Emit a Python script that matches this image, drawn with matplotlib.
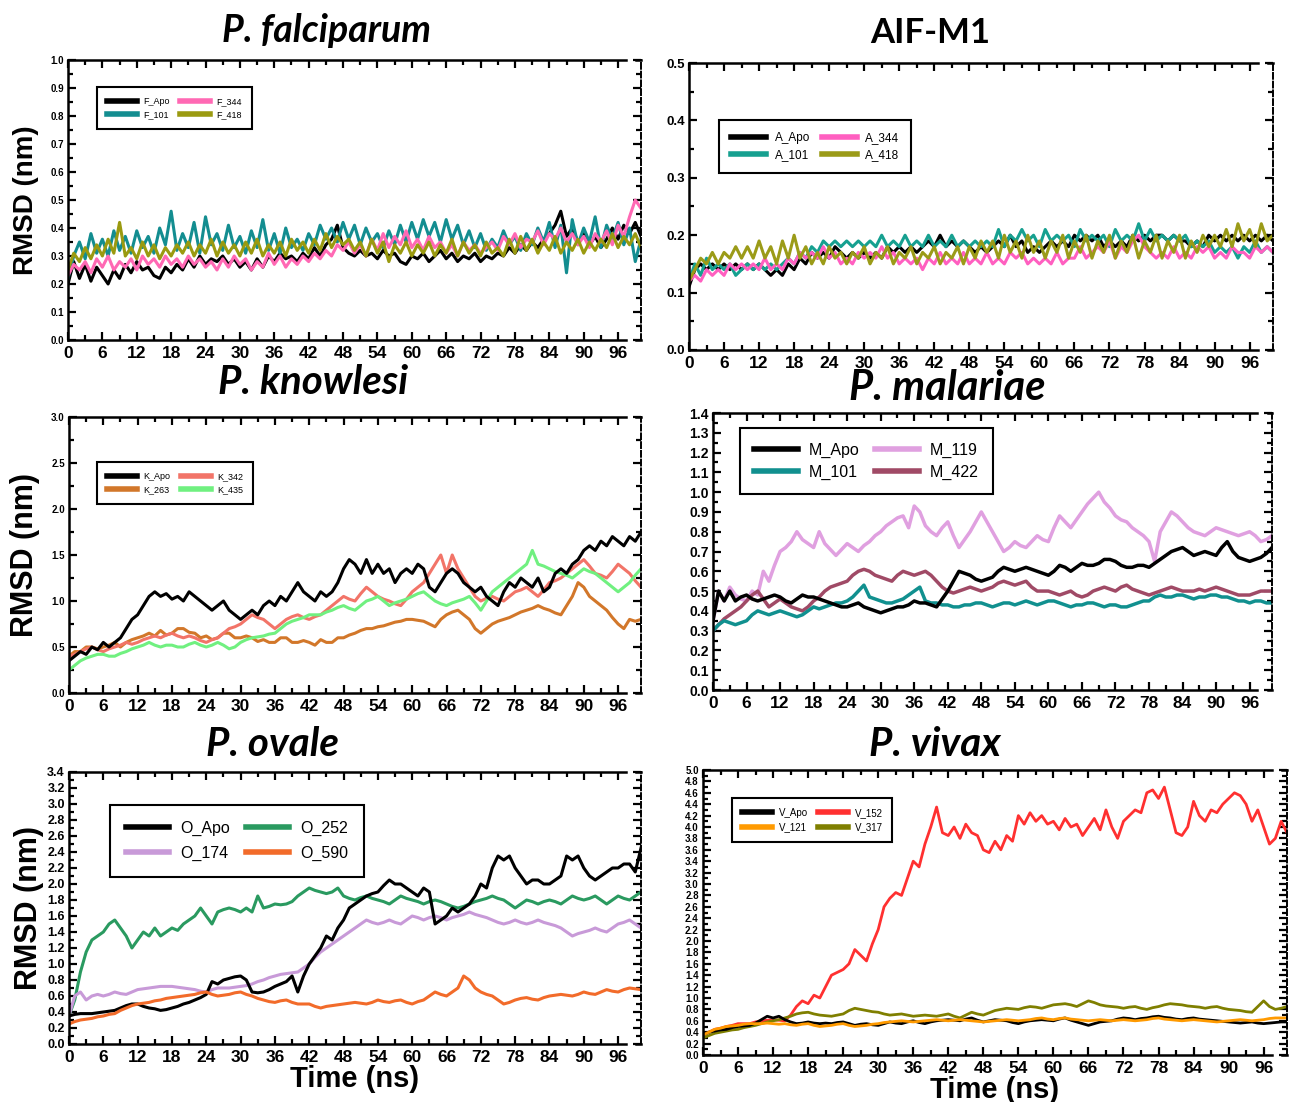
import numpy as np
import matplotlib.pyplot as plt
from matplotlib.lines import Line2D
from matplotlib.ticker import FixedLocator, MultipleLocator

plt.rcParams['font.family'] = ['Liberation Sans', 'DejaVu Sans']

# frames every 1 ns over the 100 ns runs
time_ns = np.arange(0, 101)

# ---------------- P. falciparum ----------------
f_apo = [0.20, 0.28, 0.22, 0.27, 0.21, 0.26, 0.23, 0.20, 0.25, 0.22, 0.27,
         0.24, 0.28, 0.25, 0.26, 0.23, 0.22, 0.26, 0.24, 0.27, 0.25,
         0.29, 0.26, 0.30, 0.27, 0.29, 0.28, 0.30, 0.27, 0.29, 0.26,
         0.28, 0.25, 0.29, 0.26, 0.30, 0.28, 0.31, 0.29, 0.30, 0.28,
         0.31, 0.29, 0.33, 0.30, 0.34, 0.36, 0.41, 0.33, 0.31, 0.30,
         0.32, 0.30, 0.31, 0.29, 0.32, 0.30, 0.31, 0.28, 0.27, 0.30,
         0.29, 0.31, 0.28, 0.30, 0.32, 0.29, 0.31, 0.28, 0.30, 0.29,
         0.31, 0.28, 0.30, 0.29, 0.31, 0.30, 0.33, 0.31, 0.34, 0.32,
         0.35, 0.33, 0.36, 0.38, 0.41, 0.46, 0.37, 0.40, 0.35, 0.38,
         0.34, 0.37, 0.33, 0.36, 0.40, 0.36, 0.41, 0.38, 0.42, 0.37]
f_101 = [0.22, 0.30, 0.35, 0.29, 0.38, 0.31, 0.36, 0.30, 0.39, 0.32, 0.37,
         0.31, 0.39, 0.33, 0.37, 0.31, 0.40, 0.34, 0.46, 0.32, 0.38,
         0.33, 0.42, 0.31, 0.44, 0.34, 0.38, 0.32, 0.41, 0.33, 0.37,
         0.31, 0.39, 0.33, 0.43, 0.32, 0.38, 0.31, 0.40, 0.33, 0.36,
         0.32, 0.38, 0.34, 0.41, 0.36, 0.40, 0.35, 0.42, 0.36, 0.41,
         0.34, 0.40, 0.35, 0.38, 0.33, 0.39, 0.34, 0.41, 0.35, 0.42,
         0.36, 0.43, 0.37, 0.42, 0.35, 0.43, 0.36, 0.41, 0.34, 0.39,
         0.33, 0.38, 0.32, 0.36, 0.33, 0.39, 0.34, 0.37, 0.32, 0.38,
         0.34, 0.40, 0.35, 0.42, 0.33, 0.41, 0.24, 0.43, 0.34, 0.40,
         0.35, 0.44, 0.33, 0.41, 0.36, 0.42, 0.34, 0.40, 0.28, 0.36]
f_344 = [0.23, 0.27, 0.25, 0.28, 0.24, 0.29, 0.26, 0.30, 0.25, 0.28, 0.26,
         0.29, 0.25, 0.30, 0.27, 0.29, 0.26, 0.30, 0.27, 0.29, 0.26,
         0.30, 0.27, 0.29, 0.26, 0.28, 0.25, 0.29, 0.26, 0.30, 0.27,
         0.29, 0.25, 0.28, 0.26, 0.31, 0.27, 0.30, 0.26, 0.29, 0.27,
         0.30, 0.28, 0.31, 0.29, 0.32, 0.30, 0.34, 0.32, 0.35, 0.31,
         0.34, 0.30, 0.36, 0.32, 0.38, 0.33, 0.37, 0.34, 0.39, 0.33,
         0.36, 0.32, 0.37, 0.33, 0.35, 0.31, 0.34, 0.30, 0.35, 0.32,
         0.34, 0.31, 0.33, 0.35, 0.32, 0.37, 0.34, 0.38, 0.33, 0.36,
         0.35, 0.39, 0.34, 0.38, 0.36, 0.40, 0.35, 0.38, 0.34, 0.37,
         0.33, 0.38, 0.35, 0.39, 0.34, 0.41, 0.37, 0.44, 0.50, 0.47]
f_418 = [0.25, 0.31, 0.28, 0.33, 0.29, 0.34, 0.30, 0.36, 0.31, 0.42, 0.30,
         0.33, 0.29, 0.35, 0.30, 0.34, 0.29, 0.33, 0.30, 0.34, 0.31,
         0.35, 0.30, 0.34, 0.31, 0.36, 0.30, 0.35, 0.31, 0.34, 0.30,
         0.35, 0.31, 0.36, 0.30, 0.34, 0.31, 0.35, 0.30, 0.36, 0.32,
         0.35, 0.31, 0.36, 0.32, 0.38, 0.33, 0.37, 0.34, 0.36, 0.32,
         0.35, 0.30, 0.36, 0.31, 0.35, 0.28, 0.34, 0.31, 0.35, 0.30,
         0.34, 0.31, 0.35, 0.30, 0.34, 0.31, 0.36, 0.30, 0.35, 0.31,
         0.34, 0.30, 0.35, 0.31, 0.33, 0.30, 0.36, 0.31, 0.37, 0.32,
         0.36, 0.31, 0.35, 0.32, 0.37, 0.31, 0.35, 0.32, 0.36, 0.31,
         0.35, 0.32, 0.36, 0.33, 0.38, 0.33, 0.37, 0.34, 0.38, 0.33]

# ---------------- AIF-M1 ----------------
a_apo = [0.11, 0.14, 0.15, 0.14, 0.15, 0.14, 0.15, 0.14, 0.15, 0.14, 0.15,
         0.14, 0.15, 0.14, 0.13, 0.14, 0.13, 0.15, 0.14, 0.16, 0.15,
         0.17, 0.16, 0.17, 0.16, 0.18, 0.17, 0.16, 0.17, 0.16, 0.17,
         0.16, 0.17, 0.16, 0.18, 0.17, 0.18, 0.17, 0.18, 0.17, 0.18,
         0.19, 0.18, 0.20, 0.18, 0.19, 0.18, 0.19, 0.18, 0.17, 0.18,
         0.17, 0.18, 0.19, 0.18, 0.20, 0.18, 0.19, 0.17, 0.18, 0.17,
         0.18, 0.19, 0.18, 0.19, 0.18, 0.20, 0.19, 0.20, 0.19, 0.20,
         0.18, 0.19, 0.18, 0.19, 0.18, 0.20, 0.19, 0.20, 0.19, 0.20,
         0.20, 0.19, 0.20, 0.19, 0.19, 0.18, 0.19, 0.18, 0.20, 0.19,
         0.20, 0.19, 0.20, 0.19, 0.20, 0.19, 0.20, 0.19, 0.20, 0.19]
a_101 = [0.12, 0.15, 0.13, 0.16, 0.14, 0.15, 0.14, 0.15, 0.13, 0.14, 0.15,
         0.14, 0.15, 0.14, 0.15, 0.14, 0.15, 0.16, 0.15, 0.17, 0.16,
         0.18, 0.17, 0.19, 0.18, 0.19, 0.18, 0.19, 0.18, 0.19, 0.18,
         0.19, 0.18, 0.20, 0.18, 0.19, 0.18, 0.20, 0.18, 0.19, 0.18,
         0.20, 0.18, 0.19, 0.18, 0.20, 0.18, 0.19, 0.18, 0.19, 0.18,
         0.19, 0.18, 0.21, 0.18, 0.20, 0.19, 0.21, 0.19, 0.20, 0.18,
         0.21, 0.19, 0.20, 0.19, 0.20, 0.18, 0.21, 0.19, 0.20, 0.19,
         0.20, 0.18, 0.21, 0.19, 0.20, 0.19, 0.22, 0.19, 0.21, 0.19,
         0.20, 0.19, 0.20, 0.19, 0.20, 0.18, 0.19, 0.18, 0.19, 0.17,
         0.18, 0.17, 0.18, 0.16, 0.18, 0.17, 0.19, 0.17, 0.18, 0.17]
a_344 = [0.12, 0.13, 0.12, 0.14, 0.13, 0.14, 0.13, 0.15, 0.14, 0.15, 0.14,
         0.15, 0.14, 0.16, 0.14, 0.15, 0.14, 0.16, 0.15, 0.17, 0.16,
         0.17, 0.16, 0.18, 0.16, 0.17, 0.15, 0.16, 0.15, 0.17, 0.16,
         0.17, 0.16, 0.18, 0.16, 0.17, 0.15, 0.16, 0.15, 0.16, 0.14,
         0.16, 0.15, 0.17, 0.15, 0.16, 0.15, 0.17, 0.15, 0.16, 0.15,
         0.17, 0.15, 0.16, 0.15, 0.17, 0.16, 0.17, 0.15, 0.16, 0.15,
         0.16, 0.15, 0.17, 0.15, 0.16, 0.16, 0.18, 0.16, 0.17, 0.18,
         0.17, 0.19, 0.16, 0.18, 0.17, 0.19, 0.20, 0.18, 0.17, 0.16,
         0.17, 0.16, 0.18, 0.16, 0.17, 0.16, 0.18, 0.17, 0.18, 0.16,
         0.17, 0.16, 0.18, 0.17, 0.17, 0.16, 0.18, 0.17, 0.18, 0.17]
a_418 = [0.12, 0.14, 0.16, 0.15, 0.17, 0.15, 0.17, 0.16, 0.18, 0.16, 0.18,
         0.16, 0.19, 0.16, 0.18, 0.15, 0.19, 0.16, 0.20, 0.16, 0.18,
         0.15, 0.17, 0.15, 0.18, 0.16, 0.17, 0.15, 0.17, 0.16, 0.18,
         0.15, 0.17, 0.16, 0.18, 0.15, 0.17, 0.16, 0.18, 0.15, 0.17,
         0.16, 0.18, 0.15, 0.17, 0.16, 0.18, 0.15, 0.18, 0.16, 0.19,
         0.17, 0.19, 0.16, 0.20, 0.17, 0.19, 0.16, 0.20, 0.17, 0.19,
         0.16, 0.19, 0.17, 0.20, 0.16, 0.19, 0.17, 0.20, 0.16, 0.19,
         0.17, 0.20, 0.16, 0.19, 0.17, 0.20, 0.16, 0.19, 0.17, 0.20,
         0.16, 0.19, 0.17, 0.20, 0.16, 0.19, 0.17, 0.20, 0.18, 0.20,
         0.18, 0.21, 0.18, 0.22, 0.19, 0.21, 0.18, 0.22, 0.19, 0.20]

# ---------------- P. knowlesi ----------------
k_apo = [0.35, 0.40, 0.45, 0.42, 0.50, 0.47, 0.55, 0.50, 0.55, 0.60,
         0.70, 0.80, 0.85, 0.95, 1.05, 1.10, 1.05, 1.08, 1.02, 1.05,
         1.00, 1.10, 1.05, 1.00, 0.95, 0.90, 0.95, 1.00, 0.90, 0.85,
         0.80, 0.85, 0.90, 0.85, 0.95, 1.00, 0.95, 1.05, 1.00, 1.10,
         1.20, 1.10, 1.05, 1.00, 1.10, 1.05, 1.10, 1.20, 1.35, 1.45,
         1.40, 1.30, 1.45, 1.30, 1.40, 1.30, 1.35, 1.20, 1.30, 1.35,
         1.30, 1.40, 1.35, 1.15, 1.10, 1.20, 1.30, 1.35, 1.30, 1.20,
         1.15, 1.10, 1.15, 1.05, 1.00, 0.95, 1.10, 1.20, 1.15, 1.25,
         1.20, 1.15, 1.25, 1.10, 1.15, 1.30, 1.35, 1.30, 1.40, 1.45,
         1.55, 1.60, 1.55, 1.65, 1.60, 1.70, 1.65, 1.60, 1.70, 1.65, 1.75]
k_263 = [0.40, 0.45, 0.45, 0.50, 0.50, 0.48, 0.50, 0.52, 0.55, 0.50,
         0.55, 0.58, 0.60, 0.62, 0.65, 0.62, 0.68, 0.63, 0.65, 0.70,
         0.70, 0.66, 0.65, 0.60, 0.62, 0.58, 0.60, 0.65, 0.65, 0.60,
         0.60, 0.62, 0.60, 0.56, 0.58, 0.55, 0.55, 0.60, 0.60, 0.55,
         0.55, 0.57, 0.55, 0.52, 0.58, 0.55, 0.55, 0.60, 0.60, 0.63,
         0.65, 0.68, 0.70, 0.70, 0.72, 0.73, 0.75, 0.77, 0.78, 0.80,
         0.80, 0.79, 0.78, 0.75, 0.72, 0.80, 0.85, 0.88, 0.90, 0.85,
         0.80, 0.70, 0.65, 0.70, 0.75, 0.78, 0.80, 0.82, 0.85, 0.88,
         0.90, 0.92, 0.95, 0.92, 0.90, 0.87, 0.85, 0.95, 1.05, 1.20,
         1.15, 1.05, 1.00, 0.95, 0.90, 0.82, 0.75, 0.70, 0.80, 0.78, 0.80]
k_342 = [0.40, 0.42, 0.45, 0.48, 0.50, 0.47, 0.45, 0.48, 0.50, 0.52,
         0.55, 0.53, 0.55, 0.58, 0.60, 0.62, 0.60, 0.63, 0.65, 0.62,
         0.60, 0.62, 0.60, 0.57, 0.55, 0.58, 0.60, 0.65, 0.70, 0.72,
         0.75, 0.80, 0.85, 0.82, 0.80, 0.75, 0.70, 0.75, 0.80, 0.83,
         0.85, 0.82, 0.80, 0.83, 0.85, 0.90, 0.95, 1.00, 1.05, 1.02,
         1.00, 1.08, 1.15, 1.10, 1.05, 1.02, 1.00, 0.97, 0.95, 1.02,
         1.10, 1.15, 1.20, 1.30, 1.40, 1.50, 1.30, 1.50, 1.35, 1.25,
         1.15, 1.05, 1.00, 1.03, 1.05, 1.02, 1.00, 1.05, 1.10, 1.12,
         1.15, 1.10, 1.05, 1.12, 1.20, 1.22, 1.25, 1.30, 1.35, 1.40,
         1.45, 1.38, 1.30, 1.28, 1.25, 1.32, 1.40, 1.35, 1.30, 1.22, 1.15]
k_435 = [0.25, 0.30, 0.35, 0.38, 0.40, 0.42, 0.42, 0.40, 0.40, 0.43,
         0.45, 0.48, 0.50, 0.52, 0.55, 0.52, 0.50, 0.52, 0.52, 0.50,
         0.50, 0.53, 0.55, 0.52, 0.50, 0.52, 0.55, 0.52, 0.48, 0.50,
         0.55, 0.58, 0.60, 0.61, 0.62, 0.64, 0.65, 0.70, 0.75, 0.78,
         0.80, 0.82, 0.85, 0.85, 0.85, 0.88, 0.90, 0.93, 0.95, 0.92,
         0.90, 0.95, 1.00, 1.02, 1.05, 1.00, 0.95, 0.98, 1.00, 1.02,
         1.05, 1.08, 1.10, 1.05, 1.00, 0.97, 0.95, 0.98, 1.00, 1.02,
         1.05, 0.98, 0.90, 1.00, 1.10, 1.15, 1.20, 1.25, 1.30, 1.35,
         1.40, 1.55, 1.40, 1.38, 1.35, 1.32, 1.30, 1.28, 1.25, 1.30,
         1.35, 1.32, 1.30, 1.25, 1.20, 1.15, 1.10, 1.15, 1.20, 1.28, 1.35]

# ---------------- P. malariae ----------------
m_apo = [0.35, 0.50, 0.45, 0.50, 0.45, 0.47, 0.48, 0.46, 0.45, 0.46,
         0.47, 0.48, 0.47, 0.45, 0.44, 0.46, 0.48, 0.47, 0.47, 0.46,
         0.45, 0.44, 0.43, 0.42, 0.42, 0.43, 0.44, 0.42, 0.41, 0.40,
         0.39, 0.40, 0.41, 0.42, 0.42, 0.43, 0.45, 0.44, 0.44, 0.43,
         0.42, 0.46, 0.50, 0.55, 0.60, 0.59, 0.58, 0.56, 0.55, 0.56,
         0.57, 0.60, 0.62, 0.61, 0.60, 0.61, 0.62, 0.61, 0.60, 0.59,
         0.58, 0.60, 0.63, 0.62, 0.60, 0.62, 0.64, 0.63, 0.63, 0.64,
         0.66, 0.66, 0.65, 0.63, 0.62, 0.62, 0.63, 0.63, 0.62, 0.64,
         0.66, 0.68, 0.70, 0.71, 0.72, 0.70, 0.68, 0.69, 0.70, 0.69,
         0.68, 0.72, 0.75, 0.70, 0.67, 0.66, 0.65, 0.66, 0.67, 0.69, 0.72]
m_101 = [0.30, 0.33, 0.35, 0.34, 0.33, 0.34, 0.35, 0.38, 0.40, 0.39,
         0.38, 0.39, 0.40, 0.39, 0.38, 0.37, 0.38, 0.40, 0.42, 0.41,
         0.42, 0.43, 0.44, 0.44, 0.45, 0.47, 0.50, 0.53, 0.47, 0.46,
         0.45, 0.44, 0.44, 0.45, 0.46, 0.48, 0.50, 0.52, 0.45, 0.44,
         0.44, 0.43, 0.43, 0.42, 0.42, 0.43, 0.43, 0.44, 0.44, 0.43,
         0.42, 0.43, 0.44, 0.44, 0.43, 0.44, 0.45, 0.44, 0.43, 0.44,
         0.45, 0.45, 0.44, 0.43, 0.42, 0.43, 0.43, 0.44, 0.44, 0.43,
         0.42, 0.43, 0.43, 0.42, 0.42, 0.43, 0.44, 0.45, 0.45, 0.47,
         0.48, 0.47, 0.47, 0.48, 0.48, 0.47, 0.46, 0.47, 0.47, 0.48,
         0.48, 0.47, 0.47, 0.46, 0.45, 0.45, 0.44, 0.45, 0.45, 0.44, 0.44]
m_119 = [0.35, 0.50, 0.45, 0.52, 0.48, 0.46, 0.45, 0.50, 0.48, 0.60,
         0.55, 0.63, 0.70, 0.72, 0.75, 0.80, 0.76, 0.74, 0.72, 0.80,
         0.74, 0.71, 0.68, 0.71, 0.74, 0.72, 0.70, 0.73, 0.75, 0.78,
         0.80, 0.83, 0.85, 0.87, 0.88, 0.82, 0.93, 0.90, 0.83, 0.80,
         0.78, 0.82, 0.85, 0.78, 0.72, 0.76, 0.80, 0.85, 0.90, 0.85,
         0.80, 0.75, 0.70, 0.72, 0.75, 0.73, 0.72, 0.75, 0.78, 0.76,
         0.75, 0.82, 0.88, 0.85, 0.82, 0.86, 0.90, 0.94, 0.97, 1.00,
         0.95, 0.92, 0.88, 0.86, 0.85, 0.82, 0.80, 0.78, 0.75, 0.65,
         0.80, 0.85, 0.90, 0.88, 0.85, 0.82, 0.80, 0.79, 0.78, 0.80,
         0.82, 0.81, 0.80, 0.79, 0.78, 0.79, 0.80, 0.78, 0.75, 0.76, 0.78]
m_422 = [0.30, 0.33, 0.36, 0.38, 0.40, 0.42, 0.45, 0.48, 0.50, 0.46,
         0.42, 0.44, 0.46, 0.44, 0.42, 0.41, 0.40, 0.42, 0.45, 0.47,
         0.50, 0.52, 0.53, 0.54, 0.55, 0.58, 0.60, 0.61, 0.60, 0.58,
         0.57, 0.56, 0.55, 0.58, 0.60, 0.59, 0.58, 0.59, 0.60, 0.58,
         0.55, 0.52, 0.50, 0.49, 0.50, 0.51, 0.52, 0.51, 0.50, 0.51,
         0.52, 0.54, 0.55, 0.54, 0.53, 0.54, 0.55, 0.52, 0.50, 0.50,
         0.50, 0.49, 0.48, 0.49, 0.50, 0.48, 0.47, 0.48, 0.50, 0.51,
         0.52, 0.51, 0.50, 0.52, 0.53, 0.51, 0.50, 0.49, 0.48, 0.49,
         0.50, 0.51, 0.52, 0.51, 0.50, 0.50, 0.50, 0.51, 0.50, 0.51,
         0.52, 0.51, 0.50, 0.49, 0.48, 0.48, 0.48, 0.49, 0.50, 0.50, 0.50]

# ---------------- P. ovale ----------------
o_apo = [0.35, 0.37, 0.38, 0.38, 0.38, 0.39, 0.40, 0.41, 0.42, 0.45,
         0.48, 0.50, 0.50, 0.47, 0.45, 0.44, 0.42, 0.43, 0.45, 0.47,
         0.50, 0.52, 0.55, 0.58, 0.62, 0.78, 0.75, 0.80, 0.82, 0.84,
         0.85, 0.80, 0.65, 0.64, 0.65, 0.68, 0.72, 0.75, 0.78, 0.85,
         0.65, 0.85, 1.00, 1.10, 1.20, 1.35, 1.30, 1.45, 1.55, 1.70,
         1.75, 1.80, 1.85, 1.88, 1.90, 1.98, 2.05, 2.00, 2.00, 1.95,
         1.90, 1.85, 1.95, 1.90, 1.50, 1.55, 1.60, 1.70, 1.65, 1.70,
         1.75, 1.85, 2.00, 1.95, 2.20, 2.35, 2.30, 2.35, 2.20, 2.10,
         2.00, 2.05, 2.05, 2.00, 2.00, 2.05, 2.10, 2.35, 2.30, 2.35,
         2.20, 2.10, 2.05, 2.10, 2.15, 2.20, 2.20, 2.25, 2.25, 2.15, 2.45]
o_174 = [0.35, 0.60, 0.65, 0.55, 0.60, 0.62, 0.60, 0.62, 0.65, 0.63,
         0.62, 0.65, 0.68, 0.69, 0.70, 0.71, 0.72, 0.72, 0.72, 0.71,
         0.70, 0.69, 0.68, 0.66, 0.65, 0.68, 0.70, 0.70, 0.70, 0.71,
         0.72, 0.73, 0.75, 0.78, 0.80, 0.83, 0.85, 0.87, 0.88, 0.89,
         0.90, 0.95, 1.00, 1.08, 1.15, 1.20, 1.25, 1.30, 1.35, 1.40,
         1.45, 1.50, 1.55, 1.52, 1.50, 1.52, 1.55, 1.52, 1.50, 1.55,
         1.60, 1.58, 1.55, 1.58, 1.60, 1.58, 1.55, 1.58, 1.60, 1.62,
         1.65, 1.62, 1.60, 1.58, 1.55, 1.52, 1.50, 1.52, 1.55, 1.52,
         1.50, 1.52, 1.55, 1.52, 1.50, 1.48, 1.45, 1.40, 1.35, 1.38,
         1.40, 1.42, 1.45, 1.42, 1.40, 1.45, 1.50, 1.52, 1.55, 1.50, 1.45]
o_252 = [0.35, 0.55, 0.90, 1.15, 1.30, 1.35, 1.40, 1.50, 1.55, 1.45,
         1.35, 1.20, 1.30, 1.40, 1.35, 1.45, 1.35, 1.40, 1.45, 1.42,
         1.50, 1.55, 1.60, 1.70, 1.60, 1.50, 1.65, 1.68, 1.70, 1.68,
         1.65, 1.70, 1.65, 1.85, 1.70, 1.72, 1.75, 1.74, 1.75, 1.78,
         1.85, 1.90, 1.95, 1.92, 1.90, 1.88, 1.90, 1.95, 1.85, 1.82,
         1.80, 1.83, 1.85, 1.82, 1.80, 1.78, 1.75, 1.80, 1.85, 1.82,
         1.80, 1.78, 1.75, 1.78, 1.80, 1.78, 1.75, 1.72, 1.70, 1.72,
         1.75, 1.78, 1.80, 1.82, 1.85, 1.82, 1.80, 1.75, 1.70, 1.75,
         1.80, 1.78, 1.75, 1.78, 1.80, 1.78, 1.75, 1.80, 1.85, 1.82,
         1.80, 1.82, 1.85, 1.80, 1.75, 1.80, 1.85, 1.82, 1.80, 1.85, 1.90]
o_590 = [0.25, 0.28, 0.30, 0.31, 0.32, 0.34, 0.35, 0.37, 0.38, 0.42,
         0.45, 0.48, 0.50, 0.51, 0.52, 0.54, 0.55, 0.57, 0.58, 0.59,
         0.60, 0.61, 0.62, 0.64, 0.65, 0.62, 0.60, 0.61, 0.62, 0.64,
         0.65, 0.62, 0.60, 0.57, 0.55, 0.53, 0.52, 0.54, 0.55, 0.52,
         0.50, 0.50, 0.50, 0.47, 0.45, 0.47, 0.48, 0.49, 0.50, 0.51,
         0.52, 0.51, 0.50, 0.52, 0.55, 0.53, 0.52, 0.54, 0.55, 0.52,
         0.50, 0.53, 0.55, 0.60, 0.65, 0.62, 0.60, 0.65, 0.70, 0.85,
         0.80, 0.70, 0.65, 0.62, 0.60, 0.55, 0.50, 0.52, 0.55, 0.57,
         0.58, 0.56, 0.55, 0.58, 0.60, 0.61, 0.62, 0.61, 0.60, 0.62,
         0.65, 0.63, 0.62, 0.65, 0.68, 0.66, 0.65, 0.68, 0.70, 0.69, 0.68]

# ---------------- P. vivax ----------------
v_apo = [0.35, 0.40, 0.42, 0.44, 0.45, 0.48, 0.50, 0.51, 0.52, 0.56,
         0.62, 0.68, 0.65, 0.68, 0.62, 0.58, 0.55, 0.56, 0.58, 0.56,
         0.55, 0.56, 0.55, 0.57, 0.58, 0.55, 0.52, 0.54, 0.55, 0.53,
         0.52, 0.55, 0.58, 0.56, 0.55, 0.58, 0.60, 0.57, 0.55, 0.58,
         0.60, 0.61, 0.62, 0.61, 0.60, 0.63, 0.65, 0.61, 0.58, 0.60,
         0.62, 0.61, 0.60, 0.57, 0.55, 0.58, 0.60, 0.61, 0.62, 0.61,
         0.60, 0.63, 0.65, 0.61, 0.58, 0.55, 0.52, 0.55, 0.58, 0.59,
         0.60, 0.63, 0.65, 0.64, 0.62, 0.64, 0.65, 0.67, 0.68, 0.66,
         0.65, 0.63, 0.62, 0.64, 0.65, 0.63, 0.62, 0.61, 0.60, 0.59,
         0.58, 0.57, 0.56, 0.57, 0.58, 0.56, 0.55, 0.56, 0.57, 0.58, 0.58]
v_121 = [0.35, 0.40, 0.45, 0.47, 0.50, 0.51, 0.52, 0.54, 0.55, 0.55,
         0.55, 0.56, 0.55, 0.54, 0.55, 0.53, 0.52, 0.54, 0.55, 0.52,
         0.50, 0.51, 0.52, 0.54, 0.55, 0.52, 0.50, 0.51, 0.52, 0.54,
         0.55, 0.57, 0.58, 0.59, 0.60, 0.59, 0.58, 0.59, 0.60, 0.61,
         0.62, 0.61, 0.60, 0.61, 0.62, 0.61, 0.60, 0.59, 0.58, 0.59,
         0.60, 0.61, 0.62, 0.61, 0.60, 0.61, 0.62, 0.64, 0.65, 0.63,
         0.62, 0.64, 0.65, 0.63, 0.62, 0.61, 0.60, 0.61, 0.62, 0.61,
         0.60, 0.61, 0.62, 0.61, 0.60, 0.61, 0.62, 0.64, 0.65, 0.63,
         0.62, 0.61, 0.60, 0.61, 0.62, 0.61, 0.60, 0.59, 0.58, 0.59,
         0.60, 0.61, 0.62, 0.61, 0.60, 0.61, 0.62, 0.64, 0.65, 0.65, 0.65]
v_152 = [0.35, 0.40, 0.45, 0.47, 0.50, 0.52, 0.55, 0.55, 0.55, 0.58,
         0.60, 0.61, 0.62, 0.61, 0.60, 0.70, 0.85, 0.95, 0.90, 1.05,
         1.00, 1.20, 1.40, 1.45, 1.50, 1.60, 1.85, 1.75, 1.65, 1.95,
         2.20, 2.60, 2.75, 2.85, 2.80, 3.10, 3.40, 3.30, 3.70, 4.00,
         4.35, 3.90, 3.85, 4.00, 3.80, 4.05, 3.90, 3.85, 3.60, 3.55,
         3.75, 3.60, 3.85, 3.75, 4.20, 4.05, 4.25, 4.10, 4.20, 4.05,
         4.10, 3.95, 4.15, 4.00, 4.05, 3.85, 4.00, 4.15, 3.95, 4.30,
         4.00, 3.80, 4.10, 4.20, 4.30, 4.25, 4.60, 4.65, 4.50, 4.70,
         4.30, 3.90, 3.85, 4.00, 4.45, 4.20, 4.10, 4.30, 4.25, 4.40,
         4.50, 4.60, 4.55, 4.40, 4.10, 4.30, 4.00, 3.70, 3.80, 4.10, 3.90]
v_317 = [0.30, 0.34, 0.38, 0.40, 0.42, 0.44, 0.45, 0.48, 0.50, 0.52,
         0.55, 0.58, 0.60, 0.62, 0.65, 0.68, 0.72, 0.74, 0.75, 0.72,
         0.70, 0.69, 0.68, 0.70, 0.72, 0.78, 0.82, 0.80, 0.78, 0.76,
         0.75, 0.72, 0.70, 0.71, 0.72, 0.70, 0.68, 0.69, 0.70, 0.69,
         0.68, 0.70, 0.72, 0.68, 0.65, 0.70, 0.75, 0.72, 0.70, 0.74,
         0.78, 0.80, 0.82, 0.81, 0.80, 0.83, 0.85, 0.84, 0.82, 0.85,
         0.88, 0.89, 0.90, 0.88, 0.85, 0.90, 0.95, 0.92, 0.88, 0.86,
         0.85, 0.84, 0.82, 0.84, 0.85, 0.82, 0.80, 0.83, 0.85, 0.88,
         0.90, 0.89, 0.88, 0.86, 0.85, 0.84, 0.82, 0.84, 0.85, 0.82,
         0.80, 0.79, 0.78, 0.76, 0.75, 0.85, 0.95, 0.85, 0.80, 0.82, 0.85]

W, H = 1290, 1102
fig = plt.figure(figsize=(W / 100, H / 100), dpi=100)


def panel(x0, x1, top, bot):
    return fig.add_axes([x0 / W, 1 - bot / H, (x1 - x0) / W, (bot - top) / H])


def style(ax, ymax, ystep, ysize, xsize=12.5):
    ax.set_xlim(0, 100)
    ax.set_ylim(0, ymax)
    ax.xaxis.set_major_locator(FixedLocator(np.arange(0, 97, 6)))
    ax.xaxis.set_minor_locator(FixedLocator(np.arange(3, 96, 6)))
    yt = np.round(np.arange(0, ymax + 1e-9, ystep), 2)
    ax.set_yticks(yt)
    ax.set_yticklabels(['%.1f' % v for v in yt])
    ax.yaxis.set_minor_locator(MultipleLocator(ystep / 2))
    ax.tick_params(which='both', direction='in', top=True, right=True, width=1.6)
    ax.tick_params(which='major', length=6)
    ax.tick_params(which='minor', length=3.5)
    ax.tick_params(axis='x', labelsize=xsize, pad=4)
    ax.tick_params(axis='y', labelsize=ysize, pad=3)
    for lab in ax.get_xticklabels() + ax.get_yticklabels():
        lab.set_fontweight('bold')
    for s in ax.spines.values():
        s.set_linewidth(1.8)
    # broken frame at the right-hand end of the time axis
    ax.spines['top'].set_bounds(0, 97.4)
    ax.spines['bottom'].set_bounds(0, 97.4)
    ax.spines['right'].set_linestyle((0, (3, 1.5)))
    ax.spines['right'].set_linewidth(1.4)
    for yy in (0, 1):
        ax.plot([99.2, 100], [yy, yy], color='black', lw=1.8,
                transform=ax.get_xaxis_transform(), clip_on=False)


def draw(ax, series, colors, names, order, lw, leg_xy, leg_size, leg_len, leg_pad,
         col_space=1.2, row_space=0.45):
    for i in order:
        ax.plot(time_ns, series[i], color=colors[i], lw=lw)
    handles = [Line2D([], [], color=colors[i], lw=4) for i in range(4)]
    leg = ax.legend(handles, names, ncol=2,
                    loc='upper left', bbox_to_anchor=(leg_xy[0] / W, 1 - leg_xy[1] / H),
                    bbox_transform=fig.transFigure, frameon=True, fancybox=False,
                    edgecolor='black', framealpha=1, borderaxespad=0,
                    prop={'size': leg_size}, handlelength=leg_len,
                    columnspacing=col_space, handletextpad=0.7, labelspacing=row_space,
                    borderpad=leg_pad)
    leg.get_frame().set_linewidth(1.5)


def title(x, y, text, size, italic=True):
    fig.text(x / W, 1 - y / H, text, ha='center', va='center', fontsize=size,
             fontweight='bold', fontstyle='italic' if italic else 'normal',
             family=['Lato', 'DejaVu Sans'])


# P. falciparum
ax1 = panel(68, 641, 60, 340)
style(ax1, 1.0, 0.1, 7)
draw(ax1, [f_apo, f_101, f_344, f_418], ['black', '#138d90', '#ff69b4', '#9a9a10'],
     ['F_Apo', 'F_101', 'F_344', 'F_418'], [0, 1, 2, 3],
     2.2, (97, 87), 6.5, 3.3, 1.1)
ax1.set_ylabel('RMSD (nm)', fontsize=20, fontweight='bold', labelpad=8)
title(327, 30, 'P. falciparum', 27)

# AIF-M1
ax2 = panel(689, 1273, 63, 350)
style(ax2, 0.5, 0.1, 9.5)
draw(ax2, [a_apo, a_101, a_344, a_418], ['black', '#16a090', '#ff5fc0', '#9b9b18'],
     ['A_Apo', 'A_101', 'A_344', 'A_418'], [0, 1, 2, 3],
     2.2, (719, 120), 8.5, 3.0, 1.0, 1.0)
title(930, 33, 'AIF-M1', 25, italic=False)

# P. knowlesi
ax3 = panel(69, 641, 417, 693)
style(ax3, 3.0, 0.5, 7)
draw(ax3, [k_apo, k_263, k_342, k_435], ['black', '#d2772a', '#f27468', '#70f080'],
     ['K_Apo', 'K_263', 'K_342', 'K_435'], [1, 2, 3, 0],
     2.2, (97, 462), 6.5, 3.3, 1.1)
ax3.set_ylabel('RMSD (nm)', fontsize=22, fontweight='bold', labelpad=8)
title(313, 383, 'P. knowlesi', 29)

# P. malariae
ax4 = panel(713, 1272, 413, 690)
style(ax4, 1.4, 0.1, 10)
draw(ax4, [m_apo, m_101, m_119, m_422], ['black', '#11908f', '#e0a0e0', '#a04a66'],
     ['M_Apo', 'M_101', 'M_119', 'M_422'], [2, 3, 1, 0],
     2.5, (740, 428), 11.5, 2.7, 0.9, 1.0)
title(947, 388, 'P. malariae', 30)

# P. ovale
ax5 = panel(69, 641, 772, 1044)
style(ax5, 3.4, 0.2, 9)
draw(ax5, [o_apo, o_174, o_252, o_590], ['black', '#c89ad8', '#2a9a60', '#f26b2a'],
     ['O_Apo', 'O_174', 'O_252', 'O_590'], [2, 1, 0, 3],
     2.2, (110, 805), 11.5, 2.7, 1.0, 1.0, 0.6)
ax5.set_ylabel('RMSD (nm)', fontsize=22, fontweight='bold', labelpad=2)
ax5.set_xlabel('Time (ns)', fontsize=21, fontweight='bold', labelpad=0)
title(272, 745, 'P. ovale', 29)

# P. vivax
ax6 = panel(703, 1287, 770, 1055)
style(ax6, 5.0, 0.2, 7)
draw(ax6, [v_apo, v_121, v_152, v_317], ['black', '#ff9a00', '#ff3030', '#7f7f00'],
     ['V_Apo', 'V_121', 'V_152', 'V_317'], [2, 3, 0, 1],
     2.0, (732, 798), 7, 3.1, 1.0, 1.0)
ax6.set_xlabel('Time (ns)', fontsize=21, fontweight='bold', labelpad=0)
title(935, 745, 'P. vivax', 29)

fig.savefig('out.png', dpi=100)
